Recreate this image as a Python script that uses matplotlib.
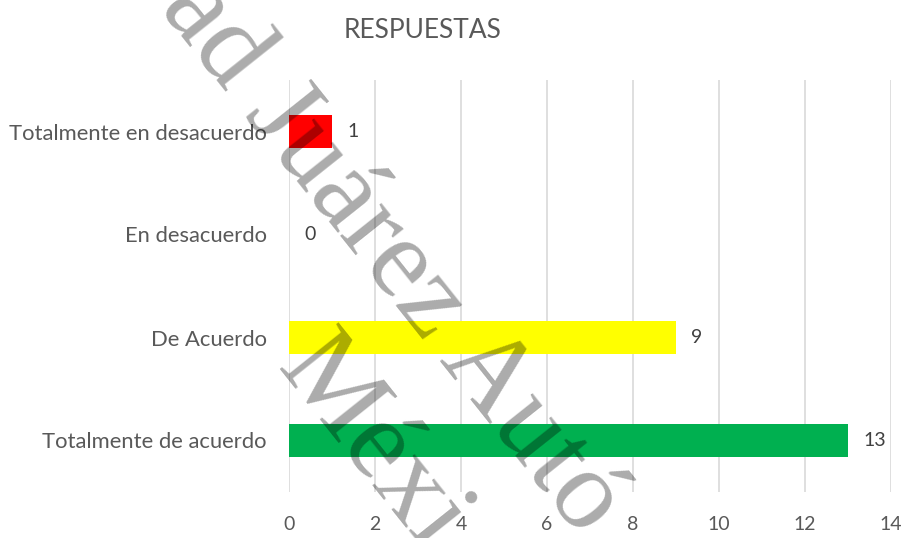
import matplotlib
matplotlib.use("Agg")
import matplotlib.pyplot as plt

categories = ["Totalmente en desacuerdo", "En desacuerdo", "De Acuerdo", "Totalmente de acuerdo"]
values = [1, 0, 9, 13]
colors = ["#ff0000", "#ffff00", "#ffff00", "#00b050"]
xticks = [0, 2, 4, 6, 8, 10, 12, 14]
title = "RESPUESTAS"
watermark_1 = "ad Juárez Autó"
watermark_2 = "Méxi"

plt.rcParams['font.family'] = ['Lato', 'DejaVu Sans']
W, H = 903, 538
fig = plt.figure(figsize=(W/100, H/100), dpi=100)
ax = fig.add_axes([289/W, 1-492/H, (891-289)/W, (492-80)/H])

ypos = list(range(len(categories)))
ax.barh(ypos, values, height=0.32, color=colors, zorder=3)
ax.set_ylim(len(categories)-0.5, -0.5)
ax.set_xlim(0, 14)
ax.set_xticks(xticks)
ax.set_xticklabels([str(t) for t in xticks], fontsize=14, color="#595959")
ax.set_yticks(ypos)
ax.set_yticklabels(categories, fontsize=15.8, color="#595959")
ax.tick_params(axis='x', length=0, pad=17)
ax.tick_params(axis='y', length=0, pad=16)
ax.xaxis.grid(True, color="#d9d9d9", linewidth=1.2, zorder=0)
for s in ax.spines.values():
    s.set_visible(False)

for y, v in zip(ypos, values):
    ax.annotate(str(v), (v, y), xytext=(15, 0), textcoords="offset pixels",
                ha="left", va="center", fontsize=14, color="#404040")

fig.text(423/W, 1-30/H, title, ha="center", va="center", fontsize=19, color="#595959")

# watermark
wm = dict(fontsize=82, family="Liberation Serif", color="black", alpha=0.33,
          rotation=-51.5, rotation_mode="anchor", ha="left", va="baseline", zorder=10)
fig.text(159/W, 1-8/H, watermark_1, **wm)
fig.text(276/W, 1-368/H, watermark_2, **wm)

fig.savefig("out.png", dpi=100)
